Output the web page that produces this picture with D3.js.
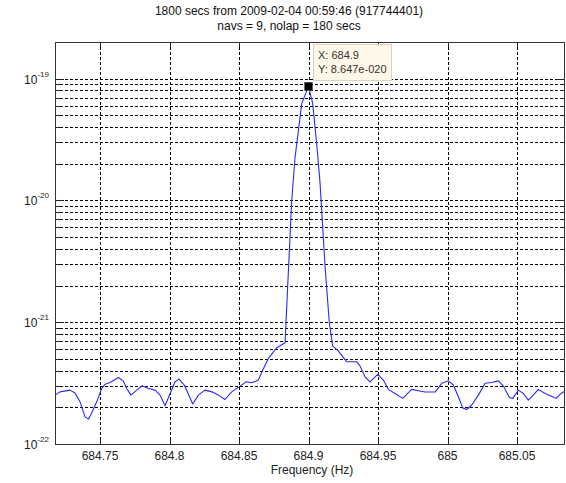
<!DOCTYPE html>
<html>
<head>
<meta charset="utf-8">
<script src="https://cdn.jsdelivr.net/npm/d3@7"></script>
<style>
  html, body { margin: 0; padding: 0; background: #fff; }
  svg text { font-family: "Liberation Sans", Arial, sans-serif; }
</style>
</head>
<body>
<svg id="chart" width="566" height="483"></svg>
<script>
// ---- data ----
const titleLines = ["1800 secs from 2009-02-04 00:59:46 (917744401)", "navs = 9, nolap = 180 secs"];
const xLabel = "Frequency (Hz)";
const xTicks = [684.75, 684.8, 684.85, 684.9, 684.95, 685, 685.05];
const xTickLabels = ["684.75", "684.8", "684.85", "684.9", "684.95", "685", "685.05"];
const yTicks = [1e-22, 1e-21, 1e-20, 1e-19];
const yTickExps = ["-22", "-21", "-20", "-19"];
const freq = [
  684.7176, 684.7212, 684.7284, 684.7320, 684.7356, 684.7392, 684.7416, 684.7440, 684.7476, 684.7512,
  684.7536, 684.7572, 684.7632, 684.7668, 684.7692, 684.7723, 684.7764, 684.7804, 684.7847, 684.7896,
  684.7932, 684.7968, 684.8004, 684.8040, 684.8068, 684.8106, 684.8167, 684.8207, 684.8255, 684.8304,
  684.8351, 684.8399, 684.8447, 684.8495, 684.8550, 684.8591, 684.8639, 684.8670, 684.8711, 684.8771,
  684.8831, 684.8862, 684.8879, 684.8903, 684.8951, 684.9000, 684.9030, 684.9063, 684.9083, 684.9119,
  684.9150, 684.9174, 684.9214, 684.9275, 684.9347, 684.9371, 684.9406, 684.9442, 684.9498, 684.9538,
  684.9574, 684.9622, 684.9678, 684.9742, 684.9790, 684.9838, 684.9910, 684.9958, 685.0006, 685.0042,
  685.0078, 685.0109, 685.0138, 685.0174, 685.0222, 685.0270, 685.0318, 685.0366, 685.0402, 685.0445,
  685.0469, 685.0509, 685.0545, 685.0581, 685.0617, 685.0653, 685.0701, 685.0781, 685.0817, 685.0845
];
const power = [
  2.52e-22, 2.68e-22, 2.77e-22, 2.62e-22, 2.22e-22, 1.67e-22, 1.60e-22, 1.80e-22, 2.22e-22, 2.86e-22,
  3.09e-22, 3.20e-22, 3.52e-22, 3.28e-22, 2.86e-22, 2.52e-22, 2.77e-22, 3.01e-22, 2.86e-22, 2.77e-22,
  2.52e-22, 2.06e-22, 2.60e-22, 3.24e-22, 3.41e-22, 3.05e-22, 2.13e-22, 2.52e-22, 2.77e-22, 2.68e-22,
  2.52e-22, 2.32e-22, 2.68e-22, 2.92e-22, 3.24e-22, 3.18e-22, 3.35e-22, 4.04e-22, 5.04e-22, 6.18e-22,
  6.79e-22, 3.89e-21, 1.00e-20, 2.26e-20, 6.24e-20, 8.647e-20, 6.24e-20, 2.57e-20, 1.38e-20, 2.84e-21,
  9.76e-22, 6.36e-22, 5.82e-22, 4.73e-22, 4.73e-22, 4.36e-22, 3.56e-22, 3.24e-22, 3.73e-22, 3.35e-22,
  2.81e-22, 2.60e-22, 2.37e-22, 2.81e-22, 2.74e-22, 2.67e-22, 2.67e-22, 3.15e-22, 3.30e-22, 3.05e-22,
  2.44e-22, 1.98e-22, 1.92e-22, 2.09e-22, 2.52e-22, 3.15e-22, 3.20e-22, 3.30e-22, 2.99e-22, 2.41e-22,
  2.37e-22, 2.77e-22, 2.60e-22, 2.29e-22, 2.52e-22, 2.81e-22, 2.60e-22, 2.37e-22, 2.60e-22, 2.72e-22
];
const tipX = 684.9;
const tipY = 8.647e-20;
const tipLines = ["X: 684.9", "Y: 8.647e-020"];

// ---- layout ----
const L = 55, R = 565, T = 42, B = 444;
const svg = d3.select("#chart");
const x = d3.scaleLinear().domain([684.7176, 685.0845]).range([L, R]);
const y = d3.scaleLog().domain([1e-22, 2e-19]).range([B, T]);

// minor grid values (2..9 x decade)
const minor = [];
for (let e = -22; e <= -20; e++) for (let m = 2; m <= 9; m++) minor.push(m * Math.pow(10, e));
minor.push(2e-19);
const allY = yTicks.concat(minor).filter(v => y(v) > T + 0.5 && y(v) < B - 0.5);

const grid = svg.append("g").attr("shape-rendering", "crispEdges");
grid.selectAll("line.h").data(allY).join("line")
  .attr("x1", L).attr("x2", R)
  .attr("y1", d => Math.round(y(d)) + 0.5).attr("y2", d => Math.round(y(d)) + 0.5)
  .attr("stroke", "#000").attr("stroke-width", 1).attr("stroke-dasharray", "3,2");
grid.selectAll("line.v").data(xTicks).join("line")
  .attr("y1", T).attr("y2", B)
  .attr("x1", d => Math.round(x(d)) + 0.5).attr("x2", d => Math.round(x(d)) + 0.5)
  .attr("stroke", "#000").attr("stroke-width", 1).attr("stroke-dasharray", "3,2");

// ticks (inside, left/right/bottom/top)
const ticks = svg.append("g").attr("shape-rendering", "crispEdges").attr("stroke", "#222");
yTicks.forEach(v => {
  const yy = Math.round(y(v)) + 0.5;
  ticks.append("line").attr("x1", L).attr("x2", L + 9).attr("y1", yy).attr("y2", yy);
  ticks.append("line").attr("x1", R - 9).attr("x2", R).attr("y1", yy).attr("y2", yy);
});
minor.filter(v => y(v) > T + 0.5).forEach(v => {
  const yy = Math.round(y(v)) + 0.5;
  ticks.append("line").attr("x1", L).attr("x2", L + 5).attr("y1", yy).attr("y2", yy);
  ticks.append("line").attr("x1", R - 5).attr("x2", R).attr("y1", yy).attr("y2", yy);
});
xTicks.forEach(v => {
  const xx = Math.round(x(v)) + 0.5;
  ticks.append("line").attr("x1", xx).attr("x2", xx).attr("y1", B).attr("y2", B - 5);
  ticks.append("line").attr("x1", xx).attr("x2", xx).attr("y1", T).attr("y2", T + 5);
});

// data line
svg.append("clipPath").attr("id", "clip").append("rect")
  .attr("x", L).attr("y", T).attr("width", R - L).attr("height", B - T);
const data = freq.map((f, i) => [f, power[i]]);
svg.append("path").datum(data)
  .attr("clip-path", "url(#clip)")
  .attr("fill", "none").attr("stroke", "#2a2aff").attr("stroke-width", 1.1)
  .attr("stroke-linejoin", "round")
  .attr("d", d3.line().x(d => x(d[0])).y(d => y(d[1])));

// frame
svg.append("rect").attr("x", L + 0.5).attr("y", T + 0.5).attr("width", R - L - 1).attr("height", B - T)
  .attr("fill", "none").attr("stroke", "#333").attr("stroke-width", 1).attr("shape-rendering", "crispEdges");

// x tick labels
svg.append("g").selectAll("text").data(xTicks).join("text")
  .attr("x", d => x(d)).attr("y", 460)
  .attr("text-anchor", "middle").attr("font-size", "12px").attr("fill", "#222")
  .text((d, i) => xTickLabels[i]);

// y tick labels
const yl = svg.append("g").selectAll("text").data(yTicks).join("text")
  .attr("x", 49).attr("y", d => y(d) + 5)
  .attr("text-anchor", "end").attr("font-size", "12px").attr("fill", "#222");
yl.append("tspan").text("10");
yl.append("tspan").attr("dy", -7).attr("font-size", "8px").text((d, i) => yTickExps[i]);

// x label
svg.append("text").attr("x", (L + R) / 2 + 2).attr("y", 474)
  .attr("text-anchor", "middle").attr("font-size", "12px").attr("fill", "#222").text(xLabel);

// title
svg.append("g").selectAll("text").data(titleLines).join("text")
  .attr("x", (L + R) / 2 - 21).attr("y", (d, i) => 15 + i * 15)
  .attr("text-anchor", "middle").attr("font-size", "12px").attr("fill", "#111").text(d => d);

// datatip
const mx = x(tipX), my = y(tipY);
const tip = svg.append("g");
tip.append("rect").attr("x", 313.5).attr("y", 44.5).attr("width", 78).attr("height", 36)
  .attr("fill", "#fff8e8").attr("stroke", "#ddd3bb").attr("stroke-width", 1);
tip.selectAll("text").data(tipLines).join("text")
  .attr("x", 318).attr("y", (d, i) => 59 + i * 14)
  .attr("font-size", "11px").attr("fill", "#333").text(d => d);
tip.append("rect").attr("x", mx - 4).attr("y", my - 4).attr("width", 8).attr("height", 8)
  .attr("fill", "#000").attr("stroke", "#555").attr("stroke-width", 0.5);
</script>
</body>
</html>
